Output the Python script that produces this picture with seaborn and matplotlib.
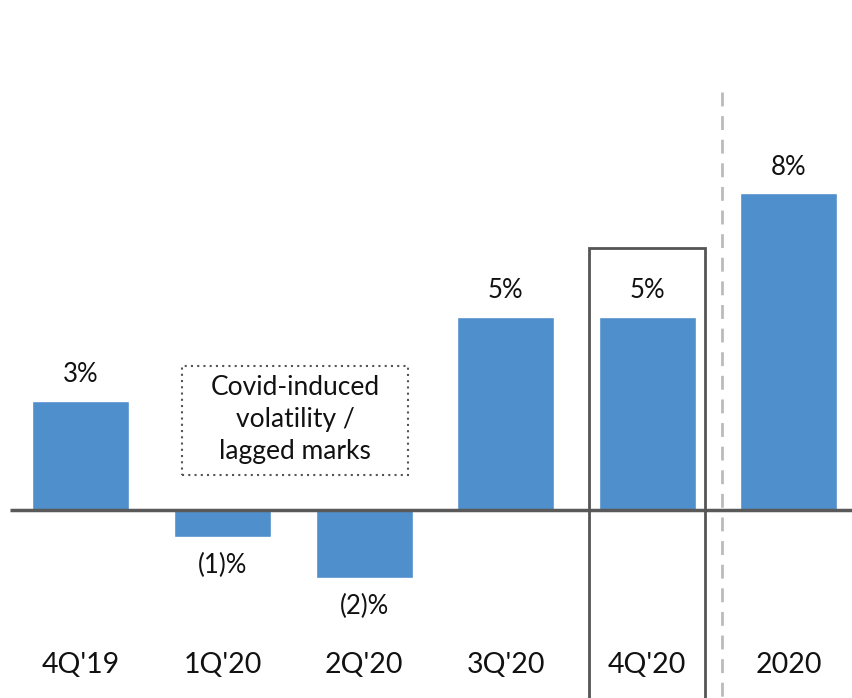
import matplotlib
matplotlib.use("Agg")
import matplotlib.pyplot as plt
import seaborn as sns
import pandas as pd
from matplotlib.patches import Rectangle

categories = ["4Q'19", "1Q'20", "2Q'20", "3Q'20", "4Q'20", "2020"]
values = [2.75, -0.68, -1.72, 4.87, 4.87, 8.0]
value_labels = ["3%", "(1)%", "(2)%", "5%", "5%", "8%"]
note_text = "Covid-induced\nvolatility /\nlagged marks"

sns.set_theme(style="white")
plt.rcParams['font.family'] = ['Lato', 'DejaVu Sans']

df = pd.DataFrame({"cat": categories, "val": values})

fig = plt.figure(figsize=(8.52, 6.98), dpi=100)
ax = fig.add_axes([0, 0, 1, 1])
bar_color = "#4F8FCB"
sns.barplot(data=df, x="cat", y="val", color=bar_color, width=0.685,
            saturation=1, ax=ax, zorder=2)

ax.set_xlim(-0.572, 5.445)
ax.set_ylim(-4.75, 12.88)
ax.axis("off")

# baseline
ax.plot([-0.5, 5.6], [0, 0], color="#595959", lw=2.5, zorder=3, solid_capstyle="butt")

# value labels
for i, (v, lab) in enumerate(zip(values, value_labels)):
    if v >= 0:
        ax.text(i, v + 0.66, lab, ha="center", va="center", fontsize=18.5, color="#111111")
    else:
        ax.text(i, v - 0.72, lab, ha="center", va="center", fontsize=18.5, color="#111111")

# category labels
for i, c in enumerate(categories):
    ax.text(i, -3.92, c, ha="center", va="center", fontsize=20.5, color="#111111")

# dotted note box
ax.add_patch(Rectangle((0.713, 0.884), 2.309 - 0.713, 3.636 - 0.884, fill=False,
                       edgecolor="#555555", lw=1.5, linestyle=(0, (1, 2)), zorder=4))
ax.text(1.511, 2.29, note_text, ha="center", va="center", fontsize=19,
        color="#111111", linespacing=1.35)

# highlight box around 4Q'20
ax.add_patch(Rectangle((3.59, -6), 4.41 - 3.59, 6.62 + 6, fill=False,
                       edgecolor="#555555", lw=2, zorder=4))

# dashed separator
ax.plot([4.53, 4.53], [10.56, -5], color="#bbbbbb", lw=2, linestyle=(0, (5, 3.5)), zorder=1)

fig.savefig("out.png", dpi=100)
